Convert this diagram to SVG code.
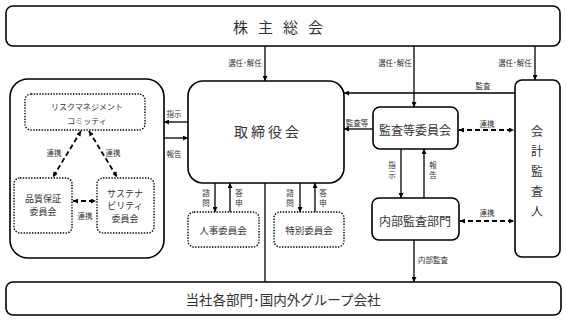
<svg xmlns="http://www.w3.org/2000/svg" width="566" height="321" viewBox="0 0 566 321">
<style>
text{font-family:"Noto Sans CJK JP","Noto Sans CJK SC",sans-serif;fill:#333;text-anchor:middle;dominant-baseline:central}
.box{fill:#fff;stroke:#000;stroke-width:1.6}
.dot{fill:#fff;stroke:#000;stroke-width:1.4;stroke-dasharray:1.4 1.4}
.ln{fill:none;stroke:#000;stroke-width:1.3}
.dash{fill:none;stroke:#000;stroke-width:1.8;stroke-dasharray:5 3}
.s{font-size:7.5px}
</style>
<defs>
<marker id="a" viewBox="0 0 10 10" refX="10" refY="5" markerWidth="5" markerHeight="5" markerUnits="userSpaceOnUse" orient="auto-start-reverse"><path d="M0,0L10,5L0,10z" fill="#000"/></marker>
</defs>
<g id="shareholders"><rect class="box" x="6" y="6" width="554" height="40" rx="7"/><text x="283" y="26" style="font-size:15px;letter-spacing:10px">株主総会</text></g>
<g id="left-group"><rect class="box" x="10" y="79" width="154" height="179" rx="18"/></g>
<g id="risk"><rect class="dot" x="25" y="94" width="120" height="36" rx="6"/><text x="87" y="106" style="font-size:8px">リスクマネジメント</text><text x="87" y="120" style="font-size:8px">コミッティ</text></g>
<g id="quality"><rect class="dot" x="14" y="178" width="58" height="55" rx="6"/><text x="43" y="198" style="font-size:9px">品質保証</text><text x="43" y="211" style="font-size:9px">委員会</text></g>
<g id="sustain"><rect class="dot" x="97" y="178" width="57" height="55" rx="6"/><text x="125" y="193" style="font-size:9px">サステナ</text><text x="125" y="205.5" style="font-size:9px">ビリティ</text><text x="125" y="218" style="font-size:9px">委員会</text></g>
<g id="board"><rect class="box" x="188" y="81" width="156" height="102" rx="15"/><text x="268" y="131" style="font-size:14px;letter-spacing:3px">取締役会</text></g>
<g id="nomination"><rect class="dot" x="188" y="212" width="71" height="35" rx="6"/><text x="223" y="230" style="font-size:9.5px">人事委員会</text></g>
<g id="special"><rect class="dot" x="274" y="212" width="70" height="35" rx="6"/><text x="309" y="230" style="font-size:9.5px">特別委員会</text></g>
<g id="audit-committee"><rect class="box" x="373" y="107" width="85" height="42" rx="7"/><text x="415" y="129" style="font-size:12px">監査等委員会</text></g>
<g id="internal-audit"><rect class="box" x="372" y="198" width="87" height="42" rx="7"/><text x="415" y="220" style="font-size:12px">内部監査部門</text></g>
<g id="auditor"><rect class="box" x="515" y="80" width="45" height="177" rx="7"/><text x="537" y="130" style="font-size:12px">会</text><text x="537" y="150" style="font-size:12px">計</text><text x="537" y="170" style="font-size:12px">監</text><text x="537" y="190" style="font-size:12px">査</text><text x="537" y="210" style="font-size:12px">人</text></g>
<g id="departments"><rect class="box" x="6" y="282" width="555" height="33" rx="7"/><text x="283" y="299" style="font-size:13.5px">当社各部門･国内外グループ会社</text></g>
<g id="connectors">
<line class="ln" x1="265" y1="46" x2="265" y2="81" marker-end="url(#a)"/>
<line class="ln" x1="414" y1="46" x2="414" y2="107" marker-end="url(#a)"/>
<line class="ln" x1="535" y1="46" x2="535" y2="80" marker-end="url(#a)"/>
<line class="ln" x1="515" y1="93" x2="344" y2="93" marker-end="url(#a)"/>
<line class="ln" x1="373" y1="129" x2="344" y2="129" marker-end="url(#a)"/>
<line class="ln" x1="188" y1="122" x2="164" y2="122" marker-end="url(#a)"/>
<line class="ln" x1="164" y1="138" x2="188" y2="138" marker-end="url(#a)"/>
<line class="ln" x1="215" y1="183" x2="215" y2="212" marker-end="url(#a)"/>
<line class="ln" x1="230" y1="212" x2="230" y2="183" marker-end="url(#a)"/>
<line class="ln" x1="300" y1="183" x2="300" y2="212" marker-end="url(#a)"/>
<line class="ln" x1="315" y1="212" x2="315" y2="183" marker-end="url(#a)"/>
<line class="ln" x1="265" y1="183" x2="265" y2="282"/>
<line class="ln" x1="401" y1="149" x2="401" y2="198" marker-end="url(#a)"/>
<line class="ln" x1="424" y1="198" x2="424" y2="149" marker-end="url(#a)"/>
<line class="ln" x1="414" y1="240" x2="414" y2="282" marker-end="url(#a)"/>
<line class="dash" x1="459" y1="130" x2="514" y2="130" marker-start="url(#a)" marker-end="url(#a)"/>
<line class="dash" x1="460" y1="221" x2="514" y2="221" marker-start="url(#a)" marker-end="url(#a)"/>
<line class="dash" x1="81" y1="131" x2="53" y2="177" marker-start="url(#a)" marker-end="url(#a)"/>
<line class="dash" x1="89" y1="131" x2="117" y2="177" marker-start="url(#a)" marker-end="url(#a)"/>
<line class="dash" x1="73" y1="201" x2="96" y2="201" marker-start="url(#a)" marker-end="url(#a)"/>
<text class="s" x="245" y="62">選任･解任</text>
<text class="s" x="395" y="62">選任･解任</text>
<text class="s" x="515" y="62">選任･解任</text>
<text class="s" x="483" y="85">監査</text>
<text class="s" x="357" y="122">監査等</text>
<text class="s" x="174" y="113">指示</text>
<text class="s" x="174" y="153">報告</text>
<text class="s" x="206" y="192">諮</text><text class="s" x="206" y="202">問</text>
<text class="s" x="239" y="192">答</text><text class="s" x="239" y="202">申</text>
<text class="s" x="290" y="192">諮</text><text class="s" x="290" y="202">問</text>
<text class="s" x="323" y="192">答</text><text class="s" x="323" y="202">申</text>
<text class="s" x="392" y="164">指</text><text class="s" x="392" y="174">示</text>
<text class="s" x="433" y="164">報</text><text class="s" x="433" y="174">告</text>
<text class="s" x="487" y="123">連携</text>
<text class="s" x="487" y="212">連携</text>
<text class="s" x="433" y="259">内部監査</text>
<text class="s" x="54" y="152">連携</text>
<text class="s" x="113" y="152">連携</text>
<text class="s" x="85" y="215">連携</text>
</g>
</svg>
